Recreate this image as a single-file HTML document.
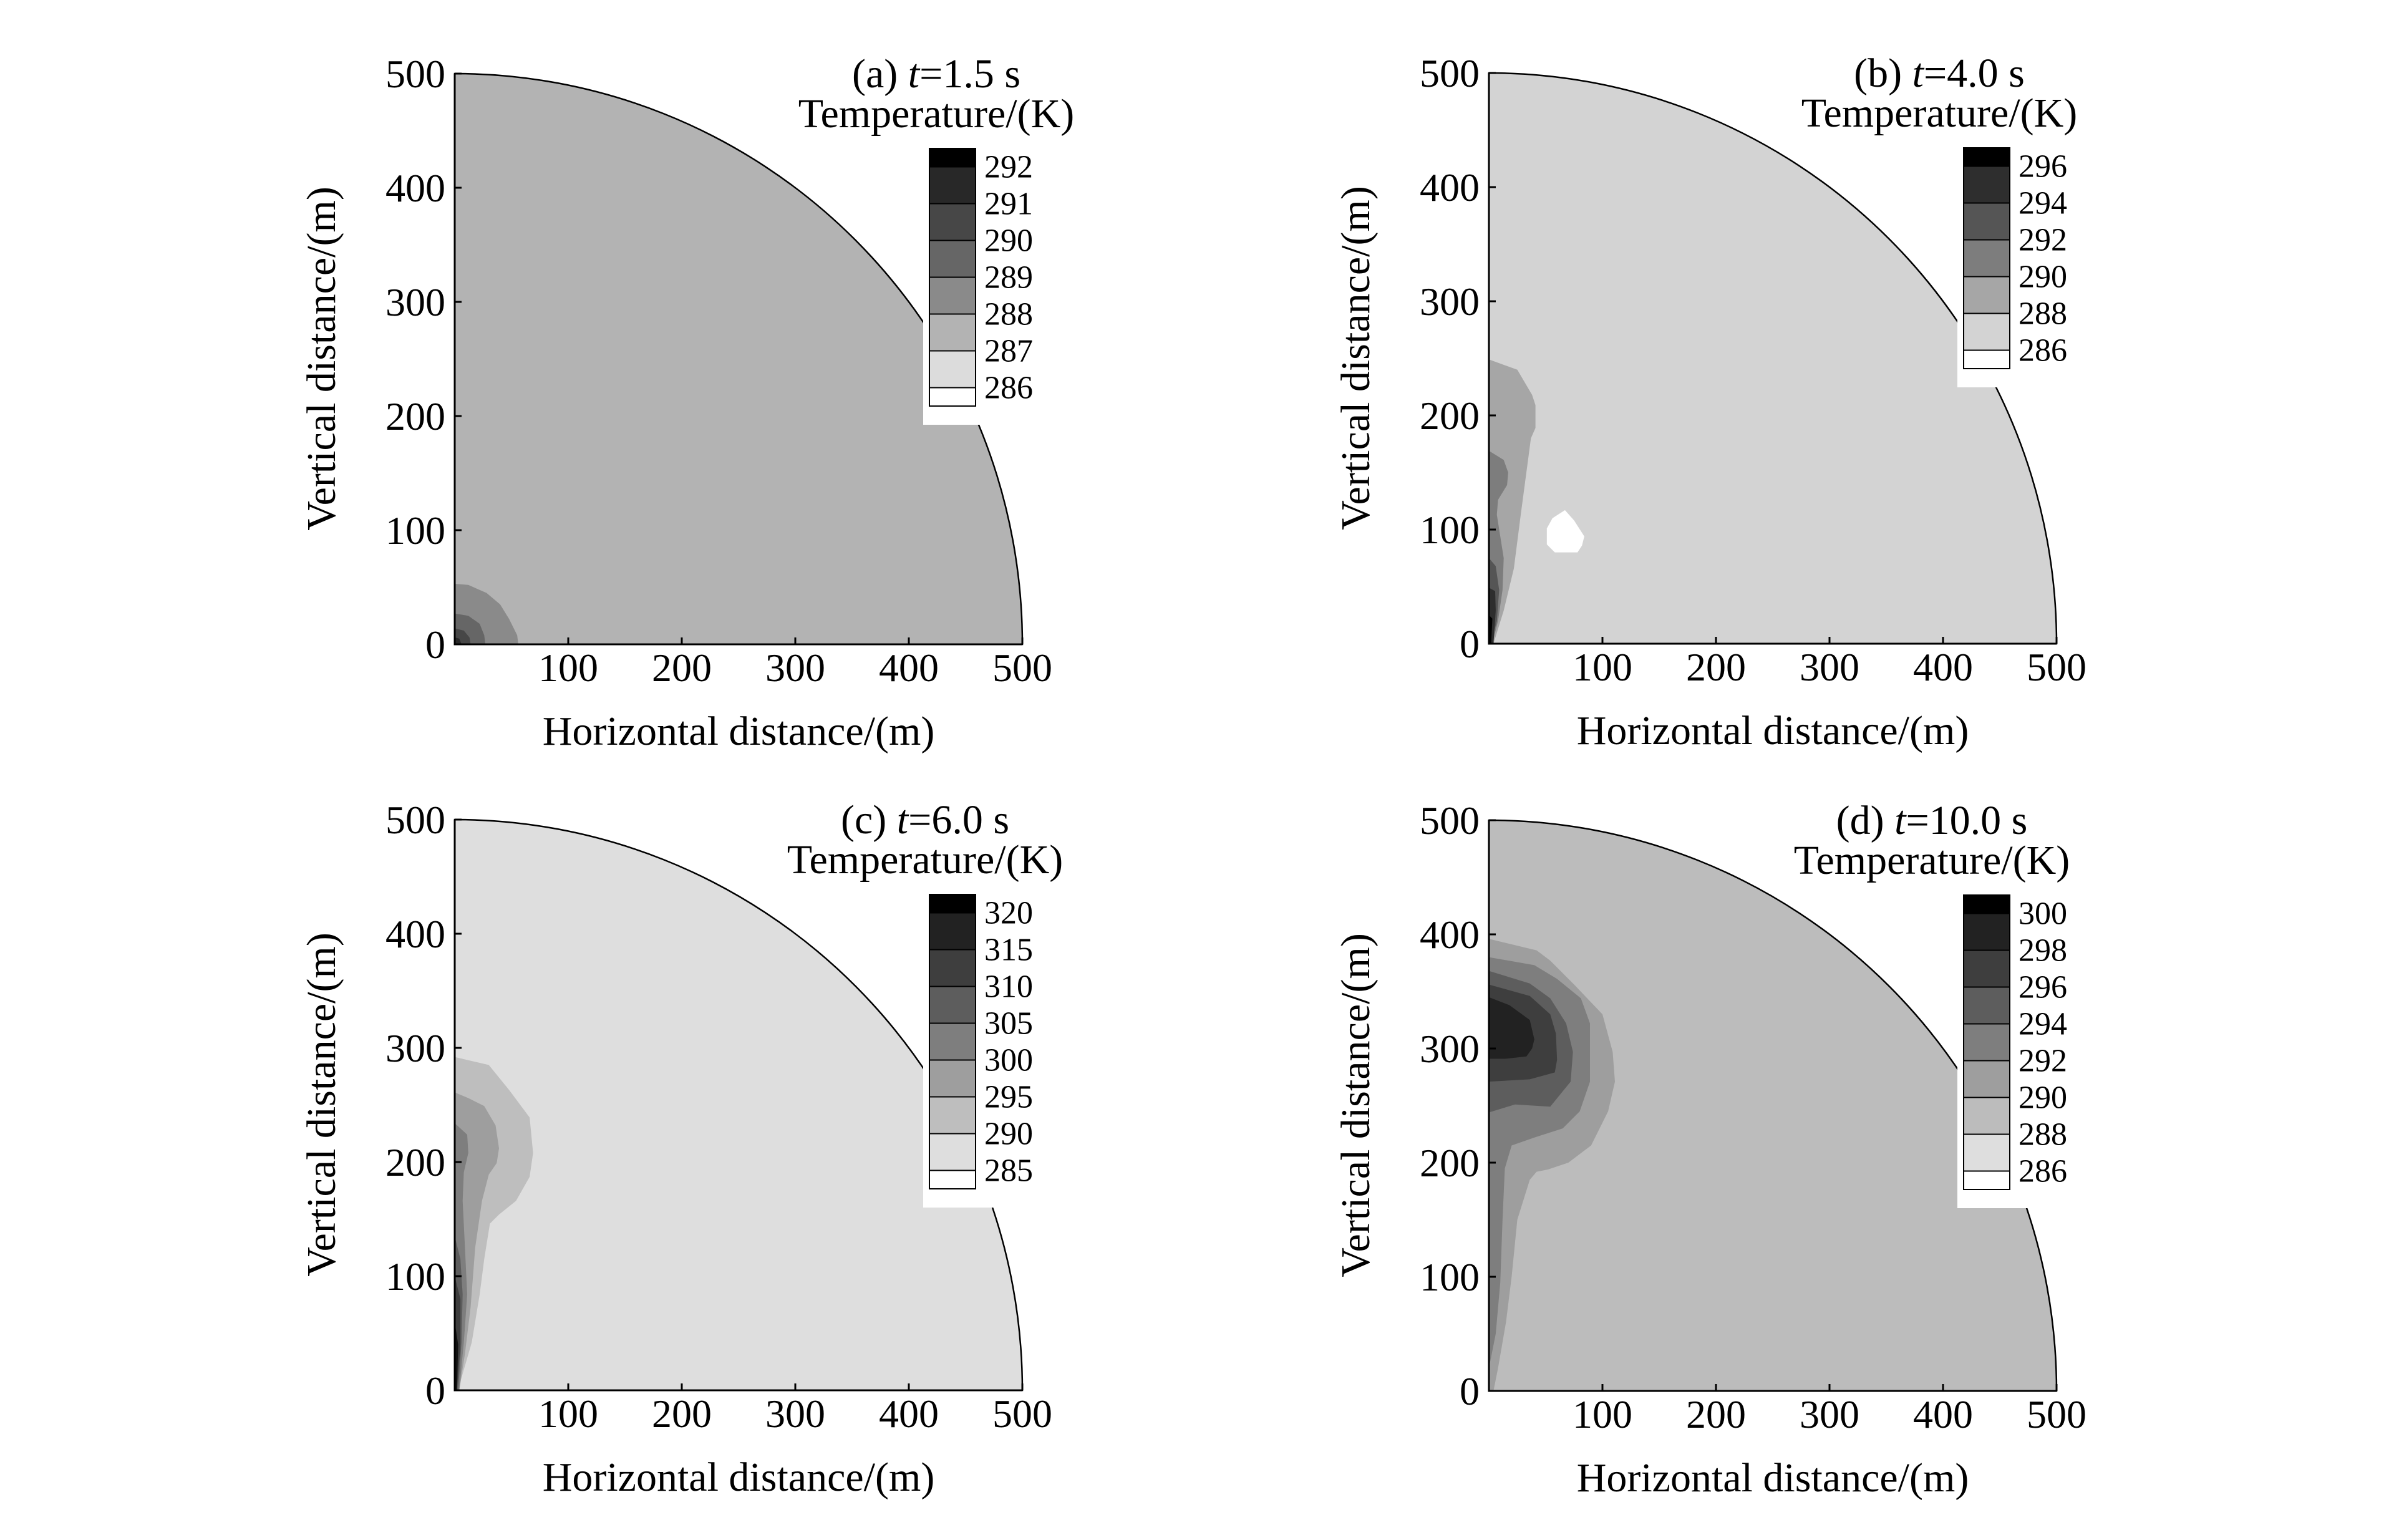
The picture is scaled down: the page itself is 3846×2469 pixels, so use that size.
<!DOCTYPE html>
<html><head><meta charset="utf-8">
<style>
html,body{margin:0;padding:0;background:#fff;}
svg{display:block;font-family:"Liberation Serif","Times New Roman",serif;}
</style></head>
<body>
<svg id="fig" width="3846" height="2469" viewBox="0 0 3846 2469" xmlns="http://www.w3.org/2000/svg"></svg>
<script>
// ---------- data ----------
const xTicks = [100,200,300,400,500];
const yTicks = [0,100,200,300,400,500];
const panelIds = ['a','b','c','d'];
const panelTimes = ['1.5','4.0','6.0','10.0'];
const legendLabelsA = [292,291,290,289,288,287,286];
const legendLabelsB = [296,294,292,290,288,286];
const legendLabelsC = [320,315,310,305,300,295,290,285];
const legendLabelsD = [300,298,296,294,292,290,288,286];
const legendColorsA = ['#000','#282828','#474747','#666','#8a8a8a','#b3b3b3','#dcdcdc','#fff'];
const legendColorsB = ['#000','#2e2e2e','#555','#7d7d7d','#a6a6a6','#d3d3d3','#fff'];
const legendColorsC = ['#000','#222','#3e3e3e','#5d5d5d','#7e7e7e','#9e9e9e','#bebebe','#dedede','#fff'];
const legendColorsD = ['#000','#222','#3e3e3e','#5d5d5d','#7e7e7e','#9e9e9e','#bcbcbc','#dedede','#fff'];
const bgColors = ['#b3b3b3','#d3d3d3','#dedede','#bcbcbc'];
// contour regions (meters), outermost first
const contoursA = [
 {c:'#8a8a8a', p:[[0,53],[12,52],[28,45],[40,35],[48,22],[55,8],[56,0]]},
 {c:'#666', p:[[0,27],[12,25],[22,18],[26,8],[27,0]]},
 {c:'#474747', p:[[0,14],[8,12],[13,6],[14,0]]},
 {c:'#282828', p:[[0,6],[4,5],[6,0]]}
];
const contoursB = [
 {c:'#a6a6a6', p:[[0,249],[25,240],[38,218],[41,209],[41,189],[37,180],[35,165],[28,113],[22,66],[13,29],[4,0]]},
 {c:'#7d7d7d', p:[[0,169],[13,161],[17,150],[16,139],[8,126],[7,113],[10,94],[13,75],[12,47],[8,20],[3,0]]},
 {c:'#555', p:[[0,75],[6,68],[9,47],[7,20],[2,0]]},
 {c:'#2e2e2e', p:[[0,49],[5.5,46],[6,29],[4,0]]},
 {c:'#000', p:[[0,25],[3,22],[2,0]]},
 {c:'#fff', closed:true, p:[[67,117],[75,108],[84,94],[82,86],[78,80],[58,80],[51,87],[51,101],[56,110]]}
];
const contoursC = [
 {c:'#bebebe', p:[[0,292],[30,285],[48,263],[66,239],[69,208],[66,187],[54,166],[39,154],[31,146],[26,115],[22,84],[15,42],[6,11],[3,0]]},
 {c:'#9e9e9e', p:[[0,261],[12,256],[26,249],[36,232],[39,212],[37,199],[30,189],[24,166],[18,125],[14,73],[9,32],[4,0]]},
 {c:'#7e7e7e', p:[[0,234],[11,224],[12,208],[8,191],[7,166],[9,125],[11,84],[8,42],[4,0]]},
 {c:'#5d5d5d', p:[[0,135],[5,115],[7,84],[6,42],[3,0]]},
 {c:'#3e3e3e', p:[[0,100],[5,80],[5,40],[2,0]]},
 {c:'#111', p:[[0,60],[3,40],[2,0]]}
];
const contoursD = [
 {c:'#9e9e9e', p:[[0,396],[42,386],[54,377],[76,355],[100,330],[109,297],[111,271],[105,245],[90,215],[70,200],[52,194],[42,192],[36,185],[25,150],[20,100],[15,60],[8,20],[4,0]]},
 {c:'#7e7e7e', p:[[0,380],[40,373],[60,361],[81,344],[89,322],[89,271],[80,245],[65,230],[40,222],[20,215],[14,195],[12,150],[10,95],[6,50],[0,20]]},
 {c:'#5d5d5d', p:[[0,368],[36,357],[54,344],[68,322],[74,297],[72,271],[54,249],[23,251],[0,244]]},
 {c:'#3e3e3e', p:[[0,356],[36,346],[54,330],[59,313],[60,290],[58,279],[36,273],[0,271]]},
 {c:'#222', p:[[0,345],[18,338],[36,325],[40,308],[38,300],[33,293],[14,291],[0,291]]}
];
const allContours = [contoursA, contoursB, contoursC, contoursD];
const allLegendLabels = [legendLabelsA, legendLabelsB, legendLabelsC, legendLabelsD];
const allLegendColors = [legendColorsA, legendColorsB, legendColorsC, legendColorsD];

// ---------- layout ----------
const origins = [[729,1033],[2387,1032],[729,2229],[2387,2230]];
const titleCenters = [1501,3109,1483,3097];
const SX = 1.82, SY = 1.83;
const NS = 'http://www.w3.org/2000/svg';
const svg = document.getElementById('fig');
function mk(tag, attrs, parent){
  const e = document.createElementNS(NS, tag);
  for (const k in attrs) e.setAttribute(k, attrs[k]);
  (parent||svg).appendChild(e);
  return e;
}

panelIds.forEach((id, i) => {
  const [ox, oy] = origins[i];
  const X = m => ox + m*SX;
  const Y = m => oy - m*SY;
  const g = mk('g', {});
  
  

  const bg = mk('path', {d:`M${X(0)},${Y(0)} L${X(0)},${Y(500)} A${500*SX},${500*SY} 0 0 1 ${X(500)},${Y(0)} Z`, fill:bgColors[i], stroke:'#000','stroke-width':2.5}, g);
  
  

  allContours[i].forEach((ct, k) => {
    let pts = ct.p.map(q => X(q[0]).toFixed(1)+','+Y(q[1]).toFixed(1));
    if (!ct.closed) pts = pts.concat([X(0)+','+Y(0)]);
    const poly = mk('polygon', {points: pts.join(' '), fill: ct.c}, g);
    
    
  });

  const labels = allLegendLabels[i];
  const colors = allLegendColors[i];
  const cell = 59;
  const lx = ox + 761, ly = oy - 915 + 120;
  const lh = labels.length * cell;
  const wb = mk('rect', {x: ox+751, y: oy-1000, width: 400, height: (ly+lh+30)-(oy-1000), fill:'#fff'}, g);
  
  

  const ax = mk('path', {d:`M${X(0)},${Y(500)} L${X(0)},${Y(0)} L${X(500)},${Y(0)}`, fill:'none', stroke:'#000','stroke-width':3}, g);
  
  
  xTicks.forEach(t => {
    const tk = mk('line', {x1:X(t), x2:X(t), y1:Y(0), y2:Y(0)-11, stroke:'#000','stroke-width':3}, g);
    
    
    const tl = mk('text', {x:X(t), y:Y(0)+59, 'font-size':64, 'text-anchor':'middle'}, g);
    
    
    tl.textContent = t;
  });
  yTicks.forEach(t => {
    const tk = mk('line', {x1:X(0), x2:X(0)+11, y1:Y(t), y2:Y(t), stroke:'#000','stroke-width':3}, g);
    
    
    const tl = mk('text', {x:X(0)-15, y:Y(t)+22, 'font-size':64, 'text-anchor':'end'}, g);
    
    
    tl.textContent = t;
  });
  const xt = mk('text', {x: ox+455, y: oy+161, 'font-size':66, 'text-anchor':'middle'}, g);
  
  
  xt.textContent = 'Horizontal distance/(m)';
  const yt = mk('text', {x: 0, y: 0, 'font-size':66, 'text-anchor':'middle', transform:`translate(${ox-192},${oy-458}) rotate(-90)`}, g);
  
  
  yt.textContent = 'Vertical distance/(m)';

  const t1 = mk('text', {x: titleCenters[i], y: oy-915+22, 'font-size':66, 'text-anchor':'middle'}, g);
  
  
  t1.innerHTML = '(' + id + ') <tspan font-style="italic">t</tspan>=' + panelTimes[i] + ' s';
  const t2 = mk('text', {x: titleCenters[i], y: oy-915+86, 'font-size':66, 'text-anchor':'middle'}, g);
  
  
  t2.textContent = 'Temperature/(K)';

  colors.forEach((c, k) => {
    const top = k === 0 ? ly : ly + cell/2 + (k-1)*cell;
    const h = (k === 0 || k === colors.length-1) ? cell/2 : cell;
    const r = mk('rect', {x: lx, y: top, width: 74, height: h, fill: c, stroke:'#000', 'stroke-width':2}, g);
    
    
  });
  labels.forEach((v, k) => {
    const tl = mk('text', {x: lx+88, y: ly + cell/2 + k*cell + 17, 'font-size':52}, g);
    
    
    tl.textContent = v;
  });
});
</script>
</body></html>
